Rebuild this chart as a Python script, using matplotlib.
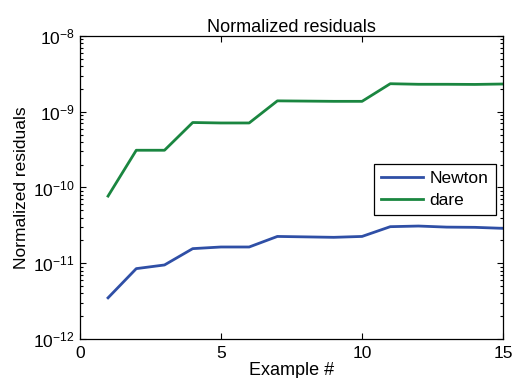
import matplotlib
matplotlib.use("Agg")
import matplotlib.pyplot as plt
from matplotlib.ticker import NullFormatter, FixedLocator, LogFormatterSciNotation

plt.rcParams['font.family'] = ['Liberation Sans', 'DejaVu Sans']

examples = list(range(1, 16))
newton = [3.5e-12, 8.5e-12, 9.5e-12, 1.56e-11, 1.64e-11, 1.64e-11, 2.26e-11,
          2.23e-11, 2.2e-11, 2.26e-11, 3.04e-11, 3.1e-11, 3.0e-11, 2.98e-11, 2.89e-11]
dare = [7.7e-11, 3.1e-10, 3.1e-10, 7.2e-10, 7.1e-10, 7.1e-10, 1.39e-9,
        1.38e-9, 1.37e-9, 1.37e-9, 2.34e-9, 2.3e-9, 2.3e-9, 2.29e-9, 2.32e-9]
xticks = [0, 5, 10, 15]
yticks = [1e-12, 1e-11, 1e-10, 1e-9, 1e-8]

fig = plt.figure(figsize=(5.15, 3.78), dpi=100)
ax = fig.add_axes([0.155, 0.103, 0.822, 0.802])
ax.plot(examples, newton, color='#2f4fa6', lw=2.0, label='Newton')
ax.plot(examples, dare, color='#1a8640', lw=2.0, label='dare')
ax.set_yscale('log')
ax.set_xlim(0, 15)
ax.set_ylim(1e-12, 1e-8)
ax.xaxis.set_major_locator(FixedLocator(xticks))
ax.yaxis.set_major_locator(FixedLocator(yticks))
ax.yaxis.set_major_formatter(LogFormatterSciNotation())
minor = [m * t for t in yticks[:-1] for m in range(2, 10)]
ax.yaxis.set_minor_locator(FixedLocator(minor))
ax.yaxis.set_minor_formatter(NullFormatter())
ax.tick_params(which='both', direction='in', top=True, right=True, labelsize=12.5, width=0.8)
ax.tick_params(which='major', length=4)
ax.tick_params(which='minor', length=2)
ax.tick_params(axis='x', pad=5)
for s in ax.spines.values():
    s.set_linewidth(0.9)
ax.set_title('Normalized residuals', fontsize=13, pad=3)
ax.set_xlabel('Example #', fontsize=13, labelpad=0.5)
ax.set_ylabel('Normalized residuals', fontsize=12.5, labelpad=3)
leg = ax.legend(loc='upper right', bbox_to_anchor=(0.982, 0.578), fontsize=12.5,
                fancybox=False, framealpha=1, edgecolor='black', borderaxespad=0,
                handlelength=2.4, borderpad=0.4, labelspacing=0.4, handletextpad=0.4)
leg.get_frame().set_linewidth(0.9)
fig.savefig('out.png', dpi=100)
